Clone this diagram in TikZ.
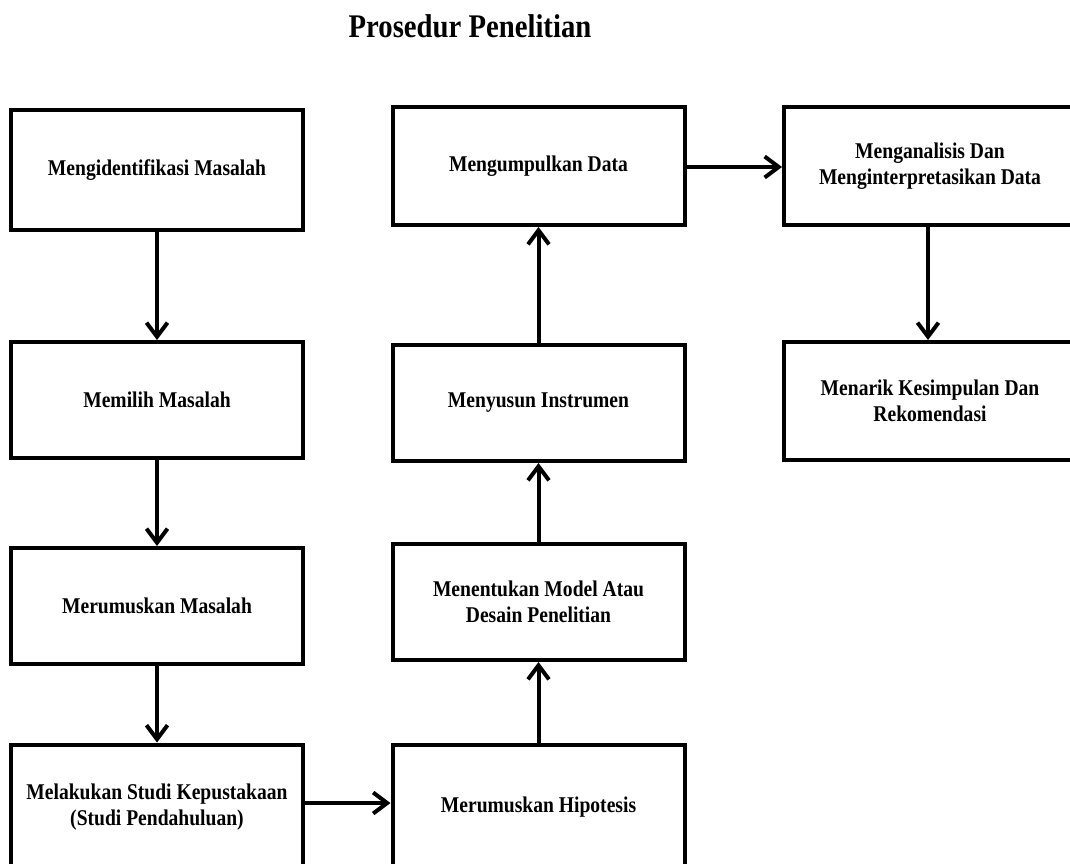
\documentclass[tikz,border=0pt]{standalone}
\usepackage{fontspec}
\setmainfont{Liberation Serif}
\newfontfamily\condfont[FakeStretch=0.87]{Liberation Serif}
\usetikzlibrary{arrows.meta}
\begin{document}
\begin{tikzpicture}[x=1pt,y=-1pt,
  procbox/.style={draw=black, line width=4pt, fill=white, minimum width=292pt, minimum height=116pt,
    align=center, font=\condfont\bfseries\fontsize{22.5}{25.5}\selectfont, inner sep=0pt},
  flow/.style={line width=4pt, -{Straight Barb[length=14pt,width=21pt,line width=4pt]}}]
\path[use as bounding box, clip] (0,0) rectangle (1070,863);
\fill[white] (0,0) rectangle (1070,863);
\node[font=\condfont\bfseries\fontsize{33}{38}\selectfont] (title) at (470,26) {Prosedur Penelitian};
% column 1
\node[procbox, minimum height=120pt] (b1) at (157,170) {Mengidentifikasi Masalah};
\node[procbox] (b2) at (157,400) {Memilih Masalah};
\node[procbox] (b3) at (157,606) {Merumuskan Masalah};
\node[procbox, minimum height=125pt] (b4) at (157,807) {Melakukan Studi Kepustakaan\\(Studi Pendahuluan)};
% column 2
\node[procbox, minimum height=125pt] (b5) at (538.5,807) {Merumuskan Hipotesis};
\node[procbox] (b6) at (538.5,602) {Menentukan Model Atau\\Desain Penelitian};
\node[procbox] (b7) at (538.5,403) {Menyusun Instrumen};
\node[procbox, minimum height=118pt] (b8) at (538.5,166) {Mengumpulkan Data};
% column 3
\node[procbox, minimum height=118pt] (b9) at (930,166) {Menganalisis Dan\\Menginterpretasikan Data};
\node[procbox, minimum height=118pt] (b10) at (930,401) {Menarik Kesimpulan Dan\\Rekomendasi};
% connectors
\draw[flow] (b1.south) -- (b2.north);
\draw[flow] (b2.south) -- (b3.north);
\draw[flow] (b3.south) -- (b4.north);
\draw[flow] (b4.east |- 0,803) -- (b5.west |- 0,803);
\draw[flow] (b5.north) -- (b6.south);
\draw[flow] (b6.north) -- (b7.south);
\draw[flow] (b7.north) -- (b8.south);
\draw[flow] (b8.east |- 0,167) -- (b9.west |- 0,167);
\draw[flow] (b9.south -| 928,0) -- (b10.north -| 928,0);
\end{tikzpicture}
\end{document}
